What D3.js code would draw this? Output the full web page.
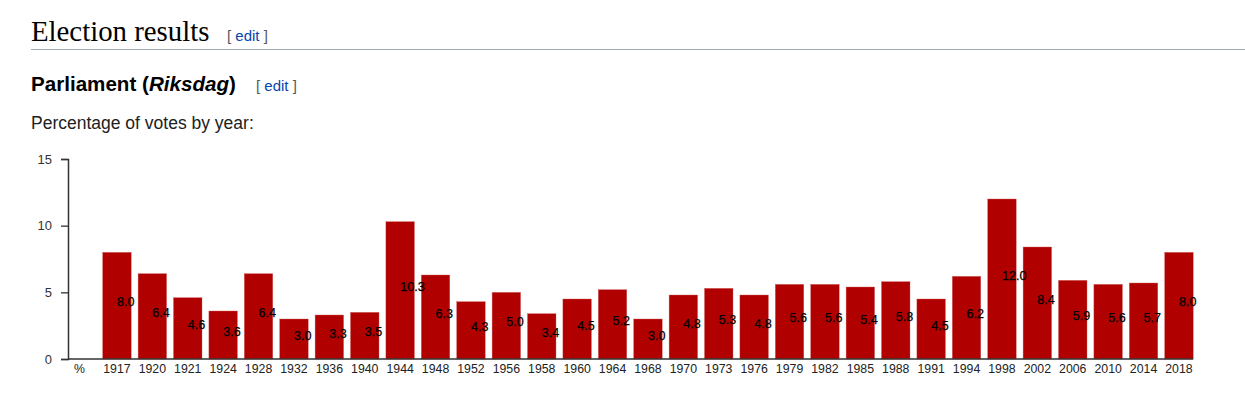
<!DOCTYPE html>
<html>
<head>
<meta charset="utf-8">
<script src="https://cdn.jsdelivr.net/npm/d3@7"></script>
<style>
  html, body { margin: 0; padding: 0; background: #fff; }
  svg { display: block; }
</style>
</head>
<body>
<svg id="chart" width="1245" height="396"></svg>
<script>
// ---- data ----
const years = ["1917","1920","1921","1924","1928","1932","1936","1940","1944","1948","1952","1956","1958","1960","1964","1968","1970","1973","1976","1979","1982","1985","1988","1991","1994","1998","2002","2006","2010","2014","2018"];
const votes = [8.0,6.4,4.6,3.6,6.4,3.0,3.3,3.5,10.3,6.3,4.3,5.0,3.4,4.5,5.2,3.0,4.8,5.3,4.8,5.6,5.6,5.4,5.8,4.5,6.2,12.0,8.4,5.9,5.6,5.7,8.0];
const yTicks = [0, 5, 10, 15];
const unitLabel = "%";

const svg = d3.select("#chart");
const sans = "'Liberation Sans', Arial, sans-serif";

// ---- page headings ----
svg.append("text").attr("x", 31).attr("y", 41)
  .attr("font-family", "'Liberation Serif', 'Times New Roman', serif")
  .attr("font-size", 28.8).attr("fill", "#000").text("Election results");

function editLink(x, y) {
  const t = svg.append("text").attr("x", x).attr("y", y)
    .attr("font-family", sans).attr("font-size", 15);
  t.append("tspan").attr("fill", "#54595d").text("[ ");
  t.append("tspan").attr("fill", "#0645ad").text("edit");
  t.append("tspan").attr("fill", "#54595d").text(" ]");
}
editLink(227, 41);

svg.append("line").attr("x1", 31).attr("x2", 1245).attr("y1", 49.5).attr("y2", 49.5)
  .attr("stroke", "#a2a9b1").attr("stroke-width", 1);

const h3 = svg.append("text").attr("x", 31).attr("y", 91)
  .attr("font-family", sans).attr("font-size", 20.6).attr("font-weight", "bold").attr("fill", "#000");
h3.append("tspan").text("Parliament (");
h3.append("tspan").attr("font-style", "italic").text("Riksdag");
h3.append("tspan").text(")");
editLink(256, 91);

svg.append("text").attr("x", 31).attr("y", 129)
  .attr("font-family", sans).attr("font-size", 17.5).attr("fill", "#202122")
  .text("Percentage of votes by year:");

// ---- chart ----
const cats = [unitLabel].concat(years);
const x = d3.scaleBand().domain(cats).range([67.3, 67.3 + 35.4 * cats.length]).padding(0);
const barW = x.bandwidth() * 0.805;
const y = d3.scaleLinear().domain([0, 15]).range([359, 159]);

const g = svg.append("g");
const rows = years.map((yr, i) => ({ yr, v: votes[i] }));

// bars
g.selectAll("rect.bar").data(rows)
  .enter().append("rect").attr("class", "bar")
  .attr("x", d => x(d.yr))
  .attr("y", d => y(d.v))
  .attr("width", barW)
  .attr("height", d => y(0) - y(d.v))
  .attr("fill", "#b00000")
  .attr("stroke", "#d06060").attr("stroke-width", 0.4);

// value labels
g.selectAll("text.val").data(rows)
  .enter().append("text").attr("class", "val")
  .attr("x", d => x(d.yr) + barW / 2)
  .attr("y", d => y(d.v / 2) + 0.5)
  .attr("font-family", sans).attr("font-size", 12.6).attr("fill", "#000")
  .attr("stroke", "#000").attr("stroke-width", 0.25)
  .text(d => d.v.toFixed(1));

// y axis
const yAxis = d3.axisLeft(y).tickValues(yTicks).tickSize(7).tickPadding(9)
  .tickFormat(d3.format("d"));
const ya = svg.append("g").attr("transform", "translate(68,0)").call(yAxis);
ya.select(".domain").attr("stroke", "#333").attr("stroke-width", 1.5);
ya.selectAll(".tick line").attr("stroke", "#333").attr("stroke-width", 1.3);
ya.selectAll(".tick text").attr("font-family", sans).attr("font-size", 13).attr("fill", "#333");

// x axis
const xEnd = x(years[years.length - 1]) + barW;
svg.append("line").attr("x1", 68).attr("x2", xEnd).attr("y1", y(0)).attr("y2", y(0))
  .attr("stroke", "#333").attr("stroke-width", 1.5);

svg.append("g").selectAll("text").data(cats).enter().append("text")
  .attr("x", d => x(d) + barW / 2 - (d === unitLabel ? 2 : 0))
  .attr("y", 373)
  .attr("text-anchor", "middle")
  .attr("font-family", sans).attr("font-size", 12.3).attr("fill", "#222")
  .text(d => d);
</script>
</body>
</html>
